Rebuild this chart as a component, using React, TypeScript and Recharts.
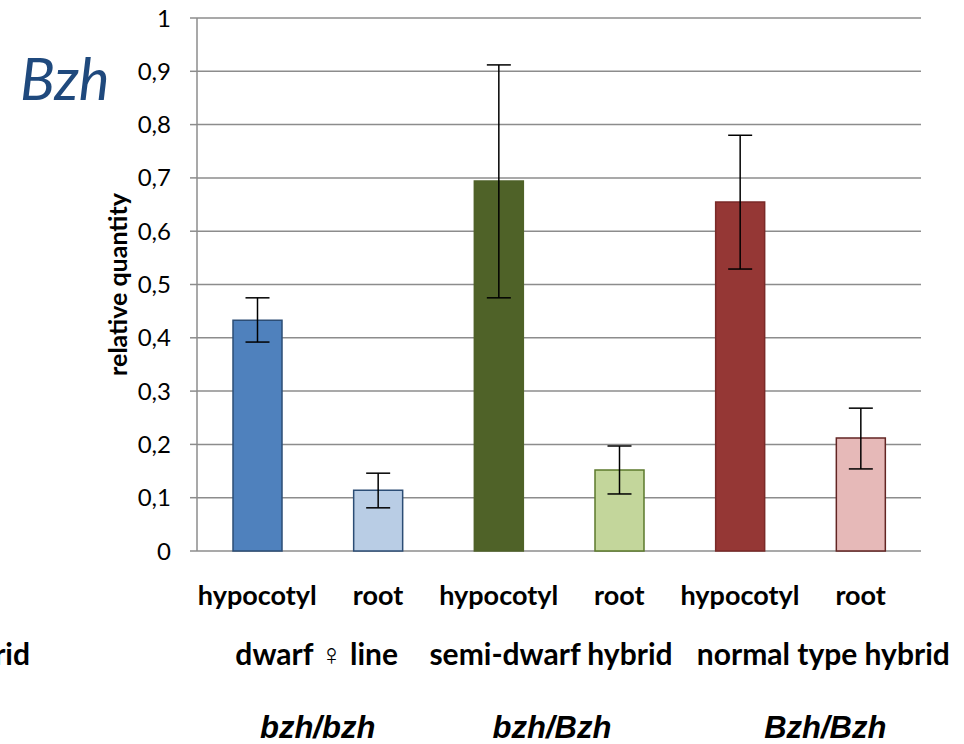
import React from "react";
import { Bar, BarChart, CartesianGrid, Cell, ErrorBar, XAxis, YAxis } from "recharts";

// Bzh expression
const tissues = ["hypocotyl", "root", "hypocotyl", "root", "hypocotyl", "root"];
const quantity = [0.433, 0.114, 0.694, 0.152, 0.655, 0.212];
const errLow = [0.392, 0.081, 0.475, 0.107, 0.529, 0.154];
const errHigh = [0.475, 0.146, 0.912, 0.197, 0.78, 0.268];
const lines = ["dwarf \u2640 line", "semi-dwarf hybrid", "normal type hybrid"];
const genotypes = ["bzh/bzh", "bzh/Bzh", "Bzh/Bzh"];
const yTicks = [0, 0.1, 0.2, 0.3, 0.4, 0.5, 0.6, 0.7, 0.8, 0.9, 1];
const boundaryTicks = [0, 1, 2, 3, 4, 5, 6];

const fills = ["#4F81BD", "#B9CDE5", "#4F6228", "#C3D69B", "#953735", "#E6B9B8"];
const strokes = ["#2C4D75", "#2C4D75", "#4F6228", "#5C7A2C", "#7A2A28", "#632523"];

const GRID = "#8C8C8C";
const FONT = "Lato, 'Open Sans', sans-serif";

const data = tissues.map((t, i) => ({
  key: i,
  tissue: t,
  quantity: quantity[i],
  err: [quantity[i] - errLow[i], errHigh[i] - quantity[i]],
}));

// small nudges so the group labels sit like the text boxes in the original
const lineNudge = [-1, -8, 23];
const genoNudge = [0, -7, 25];

function CategoryTick(props: any) {
  const { x, y, index, payload } = props;
  const half = payload && payload.offset ? payload.offset : 60;
  const g = Math.floor(index / 2);
  return (
    <g>
      <text x={x} y={y} dy={46} textAnchor="middle" fontFamily={FONT} fontWeight={700} fontSize={27} fill="#000">
        {tissues[index]}
      </text>
      {index % 2 === 0 && (
        <>
          <text x={x + half + lineNudge[g]} y={y} dy={106} textAnchor="middle" fontFamily={FONT} fontWeight={700} fontSize={30} fill="#000">
            {lines[g]}
          </text>
          <text
            x={x + half + genoNudge[g]}
            y={y}
            dy={179}
            textAnchor="middle"
            fontFamily="'Liberation Sans', Arial, sans-serif"
            fontStyle="italic"
            fontWeight={700}
            fontSize={31}
            fill="#000"
          >
            {genotypes[g]}
          </text>
        </>
      )}
    </g>
  );
}

function YLabel(props: any) {
  const vb = props.viewBox || { x: 0, y: 0, width: 0, height: 0 };
  const cx = vb.x + vb.width - 80;
  const cy = vb.y + vb.height / 2;
  return (
    <text
      x={cx}
      y={cy}
      transform={`rotate(-90 ${cx} ${cy})`}
      textAnchor="middle"
      dominantBaseline="central"
      fontFamily={FONT}
      fontWeight={700}
      fontSize={25}
      fill="#000"
    >
      relative quantity
    </text>
  );
}

export default function App() {
  return (
    <div style={{ position: "fixed", left: 0, top: 0, width: 964, height: 744, background: "#fff", fontFamily: FONT }}>
      <BarChart width={964} height={744} data={data} margin={{ top: 18, right: 43, left: 0, bottom: 0 }}>
        <CartesianGrid xAxisId="cat" yAxisId="main" vertical={false} stroke={GRID} strokeWidth={1.5} />
        <XAxis
          xAxisId="bounds"
          type="number"
          domain={[0, 6]}
          ticks={boundaryTicks}
          height={0}
          tick={false}
          tickSize={8}
          axisLine={{ stroke: GRID, strokeWidth: 1.5 }}
          tickLine={{ stroke: GRID, strokeWidth: 1.5 }}
        />
        <XAxis
          xAxisId="cat"
          dataKey="key"
          height={193}
          interval={0}
          axisLine={false}
          tickLine={false}
          tickSize={8}
          tickMargin={0}
          tick={<CategoryTick />}
        />
        <YAxis
          yAxisId="main"
          domain={[0, 1]}
          ticks={yTicks}
          width={197}
          tickSize={7}
          tickMargin={19}
          tickFormatter={(v: number) => String(v).replace(".", ",")}
          tick={{ fill: "#000", fontSize: 24, fontFamily: FONT }}
          axisLine={{ stroke: GRID, strokeWidth: 1.5 }}
          tickLine={{ stroke: GRID, strokeWidth: 1.5 }}
          label={<YLabel />}
        />
        <Bar xAxisId="cat" yAxisId="main" dataKey="quantity" barSize={49} strokeWidth={1.5} isAnimationActive={false}>
          {data.map((d, i) => (
            <Cell key={d.key} fill={fills[i]} stroke={strokes[i]} />
          ))}
          <ErrorBar dataKey="err" width={12} stroke="#000" strokeWidth={1.5} isAnimationActive={false} />
        </Bar>
      </BarChart>
      <svg width={964} height={744} style={{ position: "absolute", left: 0, top: 0, pointerEvents: "none" }}>
        <text x={20} y={100} fontFamily={FONT} fontStyle="italic" fontSize={58} fill="#1F497D">
          Bzh
        </text>
        <text x={30} y={665} textAnchor="end" fontFamily={FONT} fontWeight={700} fontSize={30} fill="#000">
          semi-dwarf hybrid
        </text>
      </svg>
    </div>
  );
}
